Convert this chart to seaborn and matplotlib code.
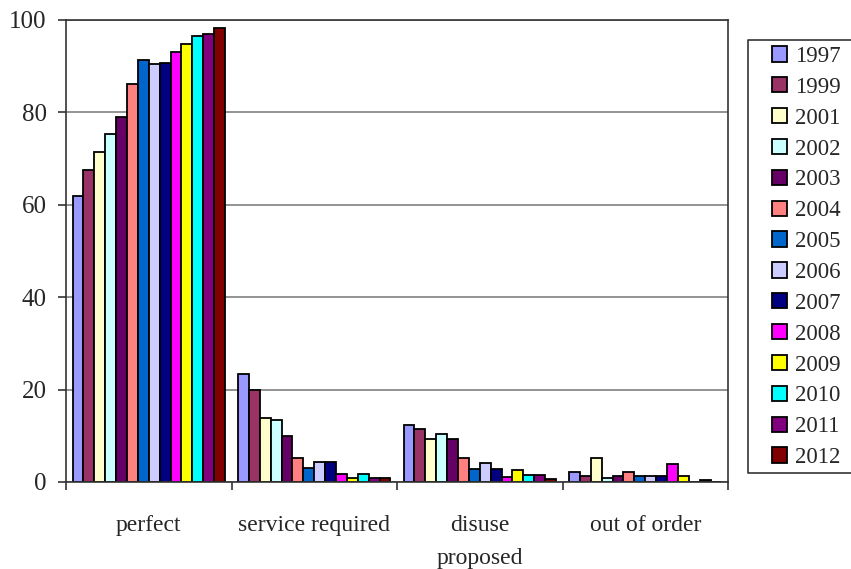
import numpy as np
import pandas as pd
import matplotlib
matplotlib.use("Agg")
import matplotlib.pyplot as plt
from matplotlib.lines import Line2D
import seaborn as sns

# Categories and years
categories = ['perfect', 'service required', 'disuse\nproposed', 'out of order']
years = ['1997', '1999', '2001', '2002', '2003', '2004', '2005',
         '2006', '2007', '2008', '2009', '2010', '2011', '2012']

# Percentages per year (perfect, service required, disuse proposed, out of order)
perfect = [62.0, 67.5, 71.5, 75.3, 78.9, 86.2, 91.3, 90.5, 90.6, 93.1, 94.9, 96.6, 97.0, 98.3]
service_required = [23.4, 19.9, 13.9, 13.4, 10.0, 5.2, 3.1, 4.4, 4.4, 1.7, 0.9, 1.7, 0.9, 0.9]
disuse_proposed = [12.4, 11.5, 9.3, 10.3, 9.3, 5.1, 2.9, 4.2, 2.8, 1.0, 2.5, 1.6, 1.6, 0.7]
out_of_order = [2.1, 1.2, 5.1, 0.8, 1.2, 2.1, 1.2, 1.2, 1.2, 3.9, 1.2, 0.0, 0.4, 0.0]

year_colors = ['#9999FF', '#993366', '#FFFFCC', '#CCFFFF', '#660066', '#FF8080', '#0066CC',
               '#CCCCFF', '#000080', '#FF00FF', '#FFFF00', '#00FFFF', '#800080', '#800000']

values = [perfect, service_required, disuse_proposed, out_of_order]
rows = []
for cat, vals in zip(categories, values):
    for yr, v in zip(years, vals):
        rows.append({'Category': cat, 'Year': yr, 'Percent': v})
df = pd.DataFrame(rows)

sns.set_style("white")
plt.rcParams['font.family'] = ['Liberation Serif', 'DejaVu Serif']

W, H = 851, 569
fig = plt.figure(figsize=(W / 100, H / 100), dpi=100)
ax = fig.add_axes([66 / W, 1 - 482 / H, (728 - 66) / W, (482 - 20) / H])

sns.barplot(data=df, x='Category', y='Percent', hue='Year', order=categories,
            hue_order=years, palette=dict(zip(years, year_colors)),
            width=0.92, edgecolor='black', linewidth=1.3, saturation=1,
            errorbar=None, ax=ax)

ax.set_ylim(0, 100)
ax.set_xlim(-0.5, len(categories) - 0.5)
ax.set_yticks(np.arange(0, 101, 20))
ax.yaxis.grid(True, color='#808080', linewidth=1.2)
ax.set_axisbelow(True)
ax.set_xlabel('')
ax.set_ylabel('')

for s in ax.spines.values():
    s.set_color('#333333')
    s.set_linewidth(1.2)
    s.set_visible(True)

# category labels centred, tick marks at the group boundaries
ax.tick_params(axis='x', which='major', length=0, pad=24, labelsize=17)
for lbl in ax.get_xticklabels():
    lbl.set_linespacing(1.7)
ax.set_xticks(np.arange(-0.5, len(categories), 1.0), minor=True)
ax.tick_params(axis='x', which='minor', direction='out', length=6, width=1.2, color='#333333', bottom=True)
ax.tick_params(axis='y', direction='out', length=6, width=1.2, color='#333333', labelsize=18, left=True, pad=8)

# legend without its own frame; the box is open on the right, cut by the image edge
leg = ax.legend(loc='upper left', bbox_to_anchor=(772 / W, 1 - 46 / H),
                bbox_transform=fig.transFigure, fontsize=16.5, frameon=False,
                handlelength=0.65, handleheight=0.65, handletextpad=0.35,
                labelspacing=0.43, borderpad=0, borderaxespad=0)
for h in leg.legend_handles:
    h.set_edgecolor('black')
    h.set_linewidth(1.3)

x0, x1 = 748 / W, 1.0
y_top, y_bot = 1 - 40 / H, 1 - 473 / H
frame = Line2D([x1, x0, x0, x1], [y_top, y_top, y_bot, y_bot], transform=fig.transFigure,
               color='#333333', linewidth=1.2)
fig.lines.append(frame)

fig.savefig('out.png', dpi=100)
